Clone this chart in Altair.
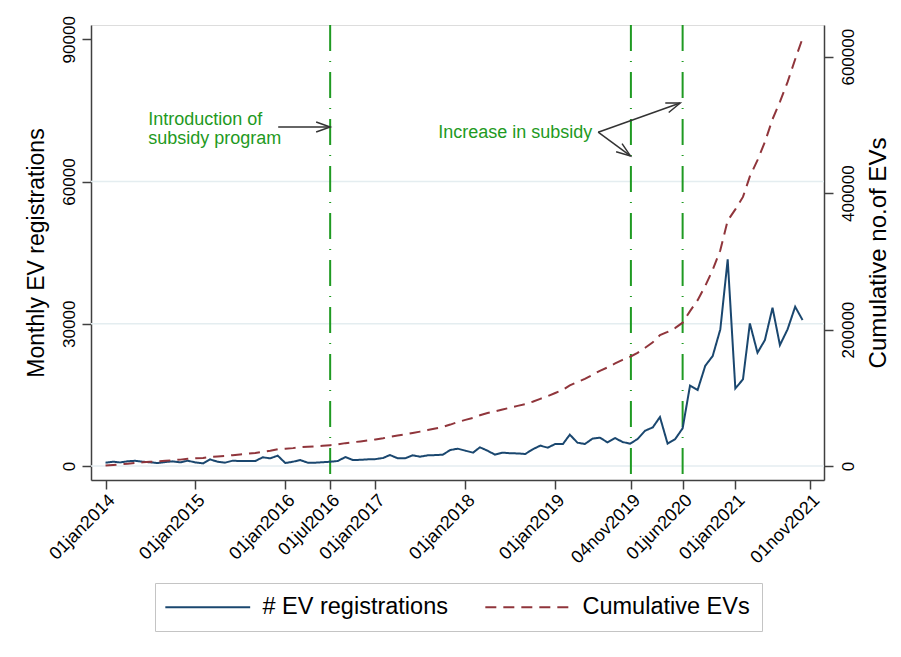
import altair as alt
import pandas as pd

# ---------------- data ----------------
months = pd.date_range("2014-01-01", "2021-10-01", freq="MS").strftime("%Y-%m-%d").tolist()
monthly_ev = [
    700, 900, 750, 1000, 1100, 900, 770, 630, 840, 980, 770, 1120,        # 2014
    750, 560, 1400, 900, 700, 1120, 1050, 1050, 1050, 1830, 1620, 2180,   # 2015
    630, 900, 1265, 700, 700, 800, 900, 1050, 1900, 1265, 1300, 1400,     # 2016
    1450, 1700, 2320, 1620, 1620, 2250, 1970, 2250, 2300, 2390, 3375, 3650,  # 2017
    3230, 2810, 3940, 3230, 2390, 2810, 2700, 2650, 2530, 3515, 4290, 3870,  # 2018
    4640, 4640, 6610, 4920, 4640, 5765, 5975, 4990, 5900, 5060, 4710, 5690,  # 2019
    7450, 8150, 10330, 4710, 5620, 7940, 16950, 16030, 21150, 23190, 28810, 43570,  # 2020
    16370, 18270, 30080, 23890, 26560, 33380, 25510, 28810, 33590, 30780,  # 2021 (Jan-Oct)
]
series_names = ["# EV registrations", "Cumulative EVs"]

x_tick_dates = ["2014-01-01", "2015-01-01", "2016-01-01", "2016-07-01", "2017-01-01",
                "2018-01-01", "2019-01-01", "2019-11-04", "2020-06-01", "2021-01-01",
                "2021-11-01"]
y_left_ticks = [0, 30000, 60000, 90000]
y_right_ticks = [0, 200000, 400000, 600000]
grid_values = [0, 30000, 60000]
event_dates = ["2016-07-01", "2019-11-04", "2020-06-01"]

note_texts = ["Introduction of\nsubsidy program", "Increase in subsidy"]
note_dates = ["2014-06-23", "2017-09-13"]
note_values = [71900, 69100]

arrow_start_dates = ["2015-12-03", "2019-06-24", "2019-06-24"]
arrow_start_values = [71500, 70400, 70400]
arrow_end_dates = ["2016-07-01", "2020-05-22", "2019-11-02"]
arrow_end_values = [71500, 76560, 65400]
arrow_head_angles = [0, 340, 36]

# ---------------- tables ----------------
df_ev = pd.DataFrame({"date": months, "ev": monthly_ev, "series": series_names[0]})
df_cum = pd.DataFrame({"date": months, "ev": monthly_ev, "series": series_names[1]})
df_grid = pd.DataFrame({"ev": grid_values})
df_events = pd.DataFrame({"date": event_dates})
df_notes = pd.DataFrame({"date": note_dates, "ev": note_values, "label": note_texts})
df_arrows = pd.DataFrame({"date": arrow_start_dates, "ev": arrow_start_values,
                          "date2": arrow_end_dates, "ev2": arrow_end_values})
df_heads = pd.DataFrame({"date": arrow_end_dates, "ev": arrow_end_values,
                         "angle": arrow_head_angles})


def dt(s):
    y, m, d = map(int, s.split("-"))
    return alt.DateTime(year=y, month=m, date=d, utc=True)


FONT = "Liberation Sans"
AXIS_COLOR = "#404040"
GREEN = "#1f9a22"

x_scale = alt.Scale(type="utc", domain=[dt("2013-11-03"), dt("2021-12-27")], nice=False)
x_axis = alt.Axis(
    values=[dt(s) for s in x_tick_dates],
    labelExpr="lower(utcFormat(datum.value, '%d%b%Y'))",
    labelAngle=315, labelFontSize=18, labelFont=FONT, labelColor="black",
    labelPadding=2, tickSize=9, tickColor=AXIS_COLOR, tickWidth=1.5,
    domainColor=AXIS_COLOR, domainWidth=1.5, grid=False, title=None,
    labelOverlap=False, labelFlush=False,
)
x_enc = alt.X("date:T", scale=x_scale, axis=x_axis)

left_scale = alt.Scale(domain=[-2953, 93016], nice=False, zero=False)
left_axis = alt.Axis(
    values=y_left_ticks, format="d", labelAngle=270, labelAlign="center",
    labelBaseline="bottom", labelPadding=4, labelFontSize=17, labelFont=FONT,
    labelColor="black", tickSize=9, tickColor=AXIS_COLOR, tickWidth=1.5,
    domainColor=AXIS_COLOR, domainWidth=1.5, grid=False,
    title="Monthly EV registrations", titleFontSize=23, titleFont=FONT,
    titleFontWeight="normal", titleColor="black", titlePadding=12,
)
y_left = alt.Y("ev:Q", scale=left_scale, axis=left_axis)

right_scale = alt.Scale(domain=[-20523, 646470], nice=False, zero=False)
right_axis = alt.Axis(
    orient="right", values=y_right_ticks, format="d", labelAngle=270,
    labelAlign="center", labelBaseline="top", labelPadding=7, labelFontSize=17,
    labelFont=FONT, labelColor="black", tickSize=9, tickColor=AXIS_COLOR,
    tickWidth=1.5, domainColor=AXIS_COLOR, domainWidth=1.5, grid=False,
    title="Cumulative no.of EVs", titleFontSize=24, titleFont=FONT,
    titleFontWeight="normal", titleColor="black", titleAngle=270,
    titleBaseline="top", titlePadding=10,
)
y_right = alt.Y("cum:Q", scale=right_scale, axis=right_axis)

# long horizontal legend sample drawn with a small symbol size so rows stay short
legend = alt.Legend(
    title=None, orient="none", legendX=64, legendY=558, direction="horizontal",
    symbolType="M-10,0L10,0", symbolSize=72, symbolStrokeWidth=2,
    symbolOffset=29, labelOffset=43,
    labelFontSize=23.5, labelFont=FONT, labelColor="black", labelLimit=400,
    strokeColor="#c4c4c4", fillColor="white", padding=12, columnPadding=33,
    cornerRadius=0,
)
color_enc = alt.Color("series:N", scale=alt.Scale(domain=series_names,
                                                 range=["#1A476F", "#90353B"]),
                      legend=legend)
dash_enc = alt.StrokeDash("series:N", scale=alt.Scale(domain=series_names,
                                                      range=[[1, 0], [11, 7]]),
                          legend=legend)

grid = alt.Chart(df_grid).mark_rule(color="#e4edf0", strokeWidth=1.5).encode(y=y_left)

vlines = alt.Chart(df_events).mark_rule(
    color=GREEN, strokeWidth=2, strokeDash=[26, 10, 1, 10]
).encode(x=x_enc)

blue = alt.Chart(df_ev).mark_line(strokeWidth=2).encode(
    x=x_enc, y=y_left, color=color_enc, strokeDash=dash_enc
)

arrows = alt.Chart(df_arrows).mark_rule(color="#333333", strokeWidth=1.5).encode(
    x=x_enc, x2=alt.X2("date2:T"), y=y_left, y2=alt.Y2("ev2:Q")
)

heads = alt.Chart(df_heads).mark_point(
    shape="M-1,-0.36L0,0L-1,0.36", filled=False, size=784, color="#333333",
    strokeWidth=1.5, opacity=1
).encode(x=x_enc, y=y_left, angle=alt.Angle("angle:Q", scale=None))

notes = alt.Chart(df_notes).mark_text(
    align="left", baseline="alphabetic", fontSize=18, font=FONT, color=GREEN,
    lineBreak="\n", lineHeight=19
).encode(x=x_enc, y=y_left, text="label:N")

red = alt.Chart(df_cum).transform_window(
    cum="sum(ev)", sort=[alt.SortField("date")], frame=[None, 0]
).mark_line(strokeWidth=2).encode(
    x=x_enc, y=y_right, color=color_enc, strokeDash=dash_enc
)

left_layer = alt.layer(grid, vlines, blue, arrows, heads, notes)

chart = alt.layer(left_layer, red).resolve_scale(y="independent").properties(
    width=733, height=455,
    autosize=alt.AutoSizeParams(type="none"),
    padding={"left": 83, "top": 17, "right": 69, "bottom": 169},
).configure_view(stroke=None).configure(background="white", font=FONT)

chart.save("out.html", embed_options={"renderer": "svg", "actions": False})
